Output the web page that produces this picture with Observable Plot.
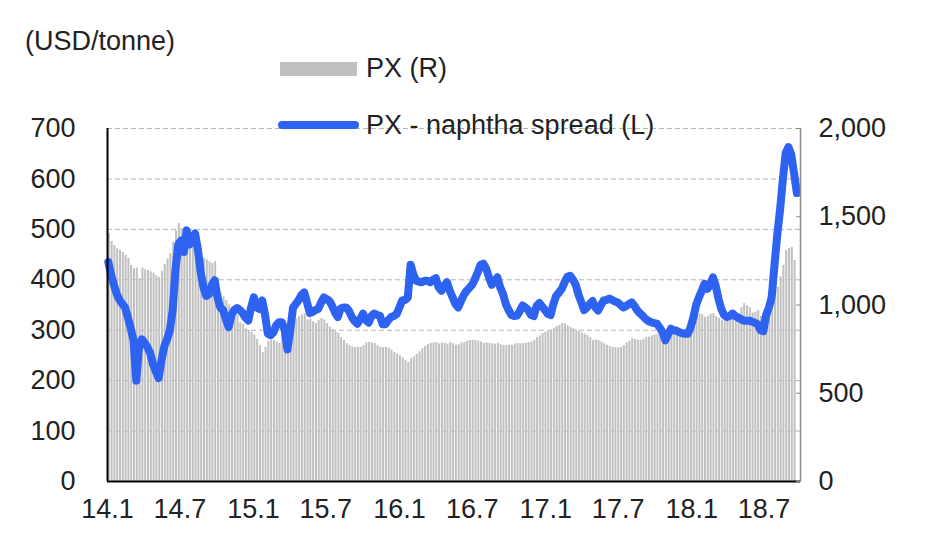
<!DOCTYPE html>
<html>
<head>
<meta charset="utf-8">
<script src="https://cdn.jsdelivr.net/npm/d3@7"></script>
<script src="https://cdn.jsdelivr.net/npm/@observablehq/plot@0.6"></script>
<style>
  html, body { margin: 0; padding: 0; background: #fff; }
  #wrap { position: relative; width: 926px; height: 558px; font-family: "Liberation Sans", Arial, sans-serif; color: #222; }
  .lbl { position: absolute; font-size: 27px; line-height: 27px; white-space: nowrap; }
  .sw { position: absolute; }
  #chart { position: absolute; left: 0; top: 0; }
</style>
</head>
<body>
<div id="wrap">
  <div id="chart"></div>
  <div class="lbl" style="left:25px; top:28px;">(USD/tonne)</div>
  <div class="sw" style="left:280px; top:62px; width:77px; height:14px; background:#c0c0c0;"></div>
  <div class="lbl" style="left:366px; top:55px;">PX (R)</div>
  <div class="sw" style="left:278px; top:121px; width:81px; height:8px; border-radius:4px; background:#2d63f0;"></div>
  <div class="lbl" style="left:366px; top:112px;">PX - naphtha spread (L)</div>
</div>
<script>
// Weekly series, first week ending 2014-01-03
const firstWeek = "2014-01-03";

// PX - naphtha spread (L), USD/tonne
const spread = [
435,410,390,372,360,352,345,325,304,280,
200,270,282,275,266,254,232,218,205,240,
268,282,300,340,420,470,478,455,498,470,
478,492,460,415,385,368,372,390,399,365,
345,340,322,306,330,340,344,340,334,325,
319,345,365,345,342,359,330,293,290,296,
310,316,316,300,262,300,345,352,360,370,
375,355,334,336,340,342,355,365,362,358,
348,335,326,343,345,345,338,326,318,313,
322,333,320,315,328,333,330,329,312,312,
320,326,328,332,345,359,360,365,430,410,
398,396,395,398,398,395,400,403,385,378,
388,395,378,365,352,345,358,370,378,384,
390,402,415,430,432,422,405,390,398,405,
385,372,352,340,330,328,329,338,349,345,
340,330,328,348,354,347,340,332,330,352,
368,375,382,395,406,408,400,390,370,355,
340,345,352,358,345,339,350,359,360,363,
360,357,355,350,345,348,352,355,348,339,
333,328,322,318,316,314,313,305,296,280,
292,303,300,299,296,294,293,293,305,325,
350,365,378,392,382,390,405,388,362,342,
330,326,328,333,328,325,322,319,319,319,
317,315,312,300,298,330,345,365,430,490,
540,600,652,663,648,610,572
];

// PX price (R), USD/tonne
const px = [
1405,1360,1335,1318,1310,1298,1282,1265,1225,1205,
1210,1150,1210,1200,1195,1188,1180,1165,1155,1190,
1230,1260,1290,1355,1420,1462,1430,1420,1410,1400,
1385,1350,1310,1285,1265,1255,1245,1235,1245,1150,
1065,1045,1025,1000,985,975,940,900,890,865,
855,845,830,805,770,730,760,795,800,799,
790,782,835,800,820,870,895,920,935,945,
950,915,920,905,895,912,923,915,895,875,
860,850,840,815,799,780,771,762,759,760,
759,770,785,788,785,782,770,760,758,760,
755,745,731,722,714,700,688,674,695,705,
720,735,752,765,775,782,785,788,780,785,
782,778,788,780,772,775,785,788,795,799,
800,799,795,790,782,785,782,780,778,782,
775,771,770,772,771,778,782,780,782,785,
786,790,800,815,825,838,845,852,856,868,
878,885,895,892,882,873,865,858,850,842,
836,827,815,800,802,798,790,780,772,765,
760,758,757,760,770,785,795,808,805,800,
799,805,815,818,825,830,835,839,835,830,
832,835,838,839,840,839,845,850,860,900,
935,950,945,930,935,948,952,935,925,915,
912,910,912,920,929,940,985,1008,995,985,
955,960,969,935,912,945,958,969,1030,1099,
1160,1225,1309,1320,1326,1252
];

const xTickLabels = ["14.1","14.7","15.1","15.7","16.1","16.7","17.1","17.7","18.1","18.7"];
const leftTicks = [0,100,200,300,400,500,600,700];
const rightTicks = [0,500,1000,1500,2000];
const xStart = "2014-01-01";
const xEnd = "2018-09-30";

// ---- build tables ----
const start = new Date(firstWeek + "T00:00:00Z");
const weekDate = i => d3.utcDay.offset(start, 7 * i);
const spreadData = spread.map((v, i) => ({date: weekDate(i), v}));
const pxData = px.map((v, i) => ({d1: weekDate(i), d2: d3.utcDay.offset(weekDate(i), 5), v}));

const xTickDates = xTickLabels.map(s => {
  const [yy, m] = s.split(".");
  return new Date(Date.UTC(2000 + +yy, +m - 1, 1));
});
const labelByTime = new Map(xTickDates.map((d, i) => [+d, xTickLabels[i]]));

const x0 = new Date(xStart + "T00:00:00Z");
const x1 = new Date(xEnd + "T00:00:00Z");
const k = 700 / 2000; // right-axis values onto the left scale
const fmtR = d3.format(",");
const FONT = "Liberation Sans, Arial, sans-serif";

const chart = Plot.plot({
  width: 926,
  height: 558,
  marginTop: 128,
  marginBottom: 77,
  marginLeft: 107,
  marginRight: 126,
  style: {fontFamily: FONT, fontSize: "27px", color: "#222", background: "transparent"},
  x: {type: "utc", domain: [x0, x1]},
  y: {domain: [0, 700]},
  marks: [
    Plot.gridY(leftTicks.filter(v => v > 0), {stroke: "#b5b5b5", strokeOpacity: 1, strokeWidth: 1, strokeDasharray: "5,3"}),
    Plot.rectY(pxData, {x1: "d1", x2: "d2", y: d => d.v * k, fill: "#c0c0c0"}),
    Plot.lineY(spreadData, {x: "date", y: "v", stroke: "#2d63f0", strokeWidth: 8, strokeLinejoin: "round", strokeLinecap: "round"}),
    Plot.ruleX([x1], {stroke: "#8a8a8a", strokeWidth: 1.5}),
    Plot.ruleX([x0], {stroke: "#000", strokeWidth: 2}),
    Plot.ruleY([0], {stroke: "#000", strokeWidth: 2}),
    Plot.axisY(leftTicks, {anchor: "left", tickSize: 0, tickPadding: 32, fontSize: 27, label: null, color: "#222"}),
    Plot.axisY(rightTicks.map(v => v * k), {anchor: "right", tickSize: 5, dx: -5, tickFormat: () => "", label: null, color: "#8a8a8a"}),
    Plot.axisY(rightTicks.map(v => v * k), {anchor: "right", tickSize: 0, tickPadding: 18, fontSize: 27, label: null, color: "#222", tickFormat: v => fmtR(Math.round(v / k))}),
    Plot.axisX(xTickDates, {anchor: "bottom", tickSize: 0, tickPadding: 17, fontSize: 27, label: null, color: "#222", tickFormat: d => labelByTime.get(+d)})
  ]
});
document.getElementById("chart").appendChild(chart);
</script>
</body>
</html>
